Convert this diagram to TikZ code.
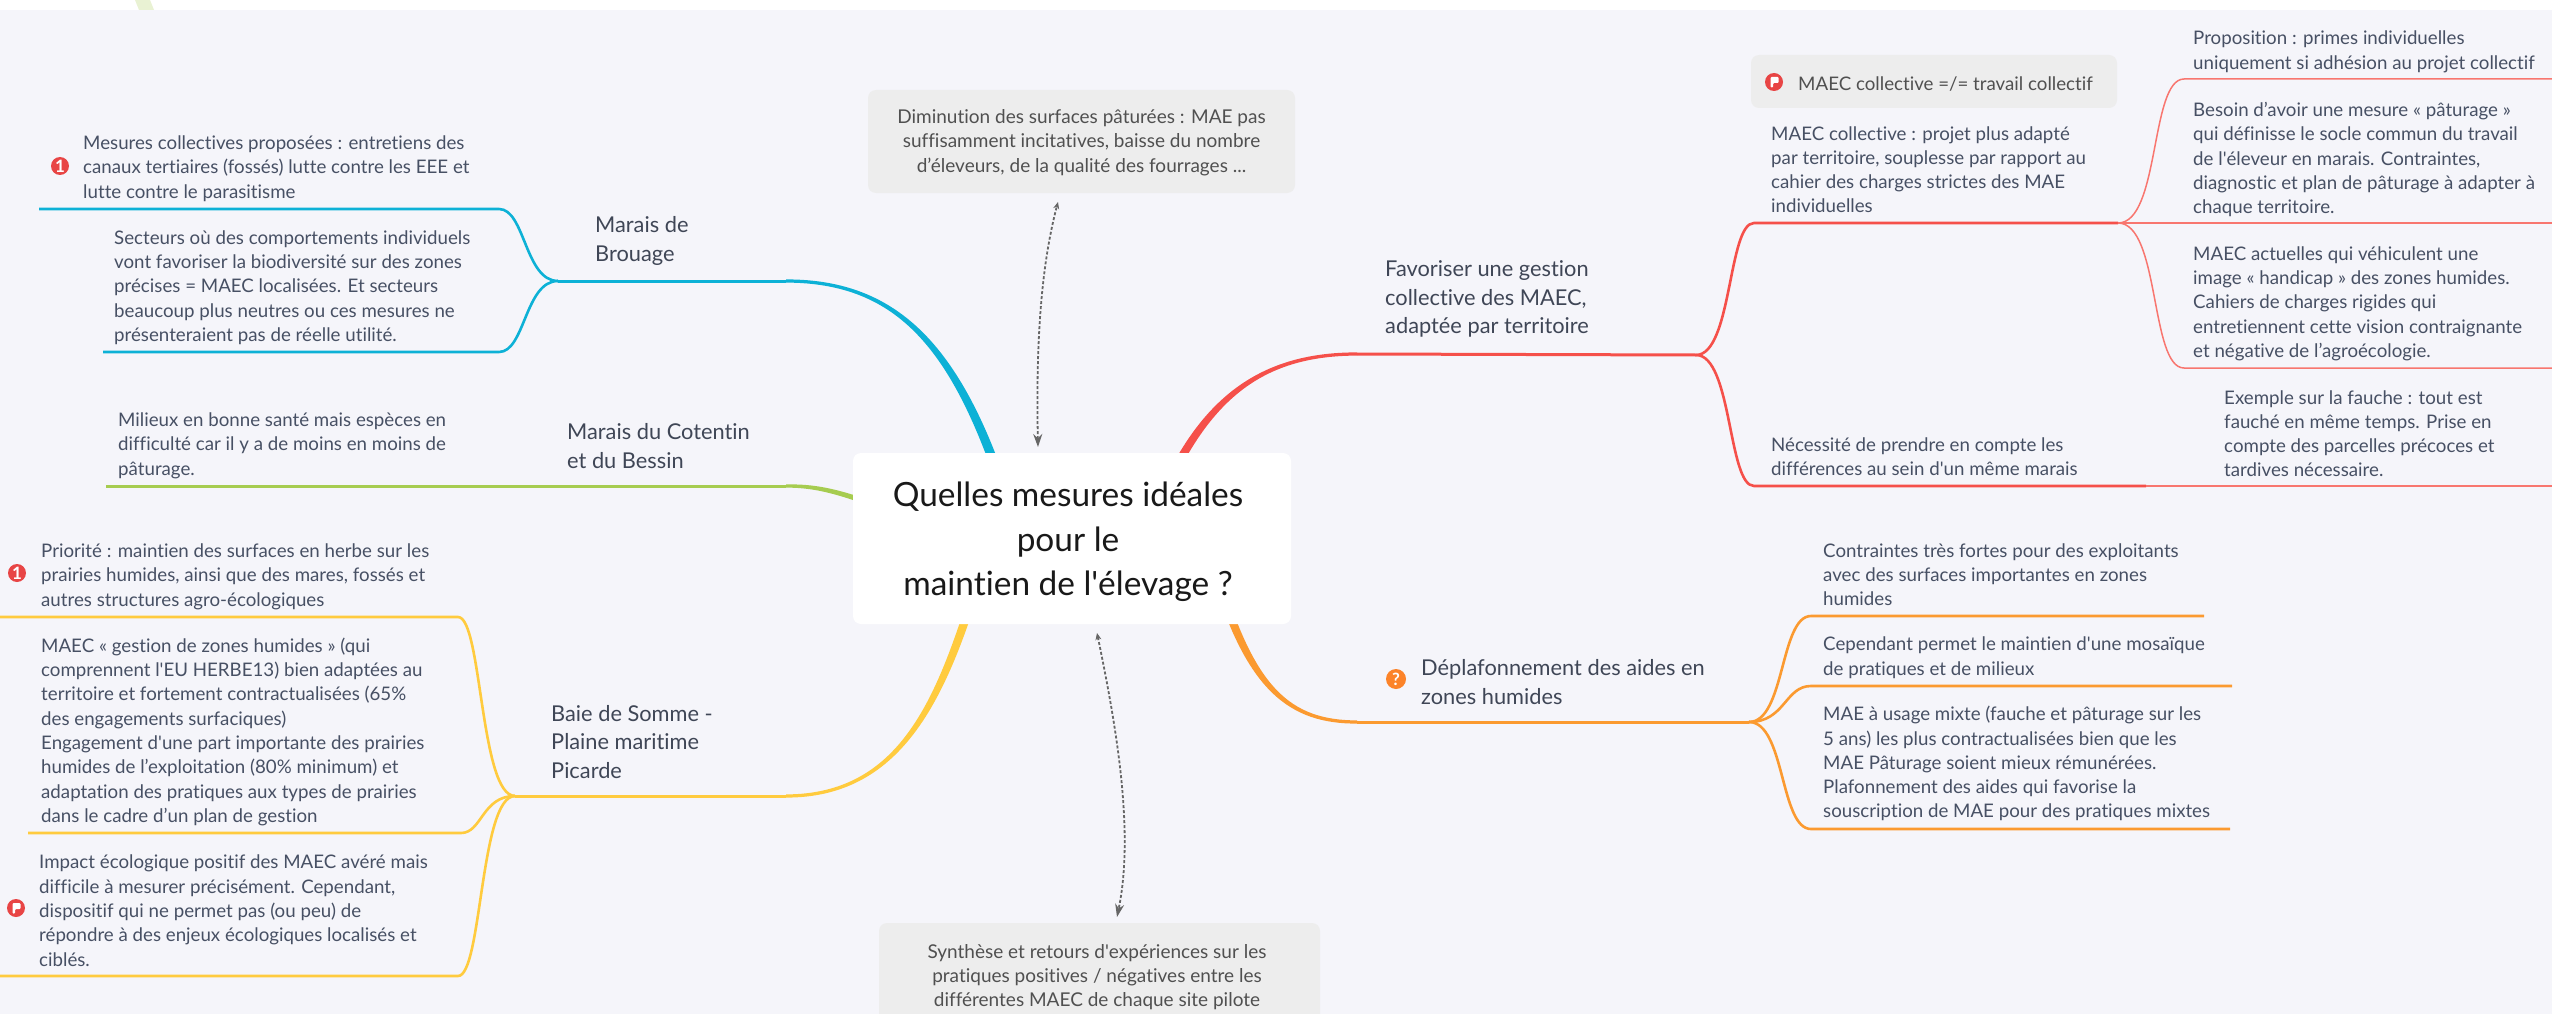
\documentclass[tikz,border=0pt]{standalone}
\usepackage{fontspec}
\setmainfont[Ligatures=NoCommon]{Lato}
\usetikzlibrary{calc}
\usetikzlibrary{arrows.meta}
\definecolor{pagebg}{HTML}{F5F5FA}
\definecolor{inkcol}{HTML}{475064}
\definecolor{topiccol}{HTML}{3F4656}
\definecolor{noteink}{HTML}{505050}
\definecolor{notecol}{HTML}{EDEDED}
\definecolor{bluecol}{HTML}{0DB1D6}
\definecolor{greencol}{HTML}{A6CC50}
\definecolor{yellowcol}{HTML}{FFCB3E}
\definecolor{redcol}{HTML}{F5504A}
\definecolor{iconred}{HTML}{E84545}
\definecolor{thinred}{HTML}{F8766F}
\definecolor{orangecol}{HTML}{FB9A30}
\tikzstyle{leafnode} = [anchor=west, inner sep=0, yshift=-1.7pt, align=left, text=inkcol, font=\fontsize{18.7}{24.3}\selectfont]
\tikzstyle{topicnode} = [anchor=west, inner sep=0, yshift=-2pt, align=left, text=topiccol, font=\fontsize{21.8}{28.3}\selectfont]
\tikzstyle{titlenode} = [inner sep=0, align=center, text=black!90, font=\fontsize{33.4}{44.5}\selectfont]
\tikzstyle{notetext} = [inner sep=0, yshift=-1pt, align=center, text=noteink, font=\fontsize{19}{24.3}\selectfont]
\tikzstyle{notebox} = [fill=notecol, rounded corners=8pt]
\tikzstyle{iconnode} = [circle, minimum size=18pt, inner sep=0, text=white, font=\fontsize{17}{17}\bfseries\selectfont]
\tikzstyle{subline} = [line width=2.6pt]
\tikzstyle{thinline} = [line width=1.5pt, color=thinred]
\tikzstyle{relation} = [densely dashed, line width=1.8pt, color=black!60]
\newcommand\sq{\textquotesingle}
\newcommand\trunk[6]{\fill[#1] ($(#2)+(0,-1.6)$) .. controls ($(#3)+(0,-1.8)$) and ($(#4)+#6$) .. ($(#5)+#6$) -- ($(#5)-#6$) .. controls ($(#4)-#6$) and ($(#3)+(0,1.8)$) .. ($(#2)+(0,1.6)$) -- cycle;}
\newcommand\flagmark[1]{\fill[white, rounded corners=1pt] ($(#1)+(-3.5,-5)$) -- ($(#1)+(4.5,-5)$) -- ($(#1)+(4.5,1)$) -- ($(#1)+(-1,1)$) -- ($(#1)+(-1,5.5)$) -- ($(#1)+(-3.5,5.5)$) -- cycle;}
\begin{document}
\begin{tikzpicture}[x=1pt, y=-1pt]
\useasboundingbox (0,0) rectangle (2552,1014);
\fill[pagebg] (0,0) rectangle (2552,1014);
\fill[white] (0,0) rectangle (2552,10);
\fill[greencol!25] (135,0) -- (150,0) -- (154,10) -- (139,10) -- cycle;

% branch points
\coordinate (blue_tip) at (786,281);
\coordinate (blue_fork) at (558,281);
\coordinate (blue_a) at (499,209);
\coordinate (blue_a_end) at (39,209);
\coordinate (blue_b) at (499,352);
\coordinate (blue_b_end) at (103,352);
\coordinate (green_tip) at (786,486);
\coordinate (green_end) at (106,486);
\coordinate (yellow_tip) at (786,796);
\coordinate (yellow_fork) at (515,796);
\coordinate (yellow_a) at (458,617);
\coordinate (yellow_a_end) at (0,617);
\coordinate (yellow_b) at (461,833);
\coordinate (yellow_b_end) at (28,833);
\coordinate (yellow_c) at (458,976);
\coordinate (yellow_c_end) at (0,976);
\coordinate (red_tip) at (1357,354);
\coordinate (red_fork) at (1696,355);
\coordinate (red_a) at (1754,223);
\coordinate (red_a_end) at (2118,223);
\coordinate (red_b) at (1754,486);
\coordinate (red_b_end) at (2146,486);
\coordinate (red_c) at (2184,79);
\coordinate (red_c_end) at (2552,79);
\coordinate (red_d) at (2552,223);
\coordinate (red_e) at (2184,368);
\coordinate (red_e_end) at (2552,368);
\coordinate (red_f) at (2552,486);
\coordinate (orange_tip) at (1357,722);
\coordinate (orange_fork) at (1749,722);
\coordinate (orange_a) at (1811,616);
\coordinate (orange_a_end) at (2204,616);
\coordinate (orange_b) at (1811,686);
\coordinate (orange_b_end) at (2232,686);
\coordinate (orange_c) at (1811,829);
\coordinate (orange_c_end) at (2230,829);

% trunks
\trunk{bluecol}{blue_tip}{900,281}{960,350}{1010,510}{(4.5,-1.5)}
\trunk{greencol}{green_tip}{810,486}{835,488}{900,515}{(1,-2.5)}
\trunk{yellowcol}{yellow_tip}{900,796}{940,700}{975,590}{(-4,-1.5)}
\trunk{redcol}{red_tip}{1270,354}{1210,390}{1165,490}{(-4,-1.5)}
\trunk{orangecol}{orange_tip}{1290,722}{1250,690}{1215,570}{(4,-1.5)}

% blue
\draw[subline, bluecol, line width=3pt] (blue_tip) -- (blue_fork);
\draw[subline, bluecol] (blue_fork) .. controls (525,281) and (525,209) .. (blue_a) -- (blue_a_end);
\draw[subline, bluecol] (blue_fork) .. controls (525,281) and (525,352) .. (blue_b) -- (blue_b_end);

% green
\draw[subline, greencol, line width=3pt] (green_tip) -- (green_end);

% yellow
\draw[subline, yellowcol, line width=3pt] (yellow_tip) -- (yellow_fork);
\draw[subline, yellowcol] (yellow_fork) .. controls (480,796) and (482,617) .. (yellow_a) -- (yellow_a_end);
\draw[subline, yellowcol] (yellow_fork) .. controls (482,796) and (482,833) .. (yellow_b) -- (yellow_b_end);
\draw[subline, yellowcol] (yellow_fork) .. controls (480,796) and (482,976) .. (yellow_c) -- (yellow_c_end);

% red
\draw[subline, redcol, line width=3pt] (red_tip) -- (red_fork);
\draw[subline, redcol] (red_fork) .. controls (1732,355) and (1728,223) .. (red_a) -- (red_a_end);
\draw[subline, redcol] (red_fork) .. controls (1732,355) and (1728,486) .. (red_b) -- (red_b_end);
\draw[thinline] (red_a_end) .. controls (2160,223) and (2150,79) .. (red_c) -- (red_c_end);
\draw[thinline] (red_a_end) -- (red_d);
\draw[thinline] (red_a_end) .. controls (2160,223) and (2150,368) .. (red_e) -- (red_e_end);
\draw[thinline] (red_b_end) -- (red_f);

% orange
\draw[subline, orangecol, line width=3pt] (orange_tip) -- (orange_fork);
\draw[subline, orangecol] (orange_fork) .. controls (1785,722) and (1780,616) .. (orange_a) -- (orange_a_end);
\draw[subline, orangecol] (orange_fork) .. controls (1785,722) and (1785,686) .. (orange_b) -- (orange_b_end);
\draw[subline, orangecol] (orange_fork) .. controls (1785,722) and (1780,829) .. (orange_c) -- (orange_c_end);

% centre and notes
\node[fill=white, rounded corners=8pt, minimum width=438pt, minimum height=171pt] (centre) at (1072,538.5) {};
\node[titlenode] (title) at (1068,542) {Quelles mesures idéales\\pour le\\maintien de l\sq{}élevage ?};
\node[notebox, minimum width=427pt, minimum height=103pt] (note_top) at (1081.5,141.5) {};
\node[notetext] (note_top_text) at (note_top) {Diminution des surfaces pâturées : MAE pas\\suffisamment incitatives, baisse du nombre\\d'éleveurs, de la qualité des fourrages ...};
\node[notebox, minimum width=441pt, minimum height=110pt] (note_bottom) at (1099.5,978) {};
\node[notetext] (note_bottom_text) at (1097,976) {Synthèse et retours d\sq{}expériences sur les\\pratiques positives / négatives entre les\\différentes MAEC de chaque site pilote};
\coordinate (top_a) at (1038,447);
\coordinate (top_b) at (1058,202);
\coordinate (bottom_a) at (1097,633);
\coordinate (bottom_b) at (1117,917);
\draw[relation, {Stealth[length=13pt,width=9pt]}-{Stealth[length=7pt,width=6pt]}] (top_a) .. controls (1036,350) and (1040,270) .. (top_b);
\draw[relation, {Stealth[length=7pt,width=6pt]}-{Stealth[length=13pt,width=9pt]}] (bottom_a) .. controls (1115,720) and (1135,830) .. (bottom_b);

% topics
\node[topicnode] (brouage) at (595,239) {Marais de\\Brouage};
\node[topicnode] (cotentin) at (567,444) {Marais du Cotentin\\et du Bessin};
\node[topicnode] (somme) at (551,740) {Baie de Somme -\\Plaine maritime\\Picarde};
\node[topicnode] (gestion) at (1385,297) {Favoriser une gestion\\collective des MAEC,\\adaptée par territoire};
\node[topicnode] (deplaf) at (1421,680) {Déplafonnement des aides en\\zones humides};

% left leaves
\node[leafnode] (mesures) at (83,167) {Mesures collectives proposées : entretiens des\\canaux tertiaires (fossés) lutte contre les EEE et\\lutte contre le parasitisme};
\node[leafnode] (secteurs) at (114,286) {Secteurs où des comportements individuels\\vont favoriser la biodiversité sur des zones\\précises = MAEC localisées. Et secteurs\\beaucoup plus neutres ou ces mesures ne\\présenteraient pas de réelle utilité.};
\node[leafnode] (milieux) at (118,444) {Milieux en bonne santé mais espèces en\\difficulté car il y a de moins en moins de\\pâturage.};
\node[leafnode] (priorite) at (41,575) {Priorité : maintien des surfaces en herbe sur les\\prairies humides, ainsi que des mares, fossés et\\autres structures agro-écologiques};
\node[leafnode] (gestion_zh) at (41,730) {MAEC « gestion de zones humides » (qui\\comprennent l\sq{}EU HERBE13) bien adaptées au\\territoire et fortement contractualisées (65\%\\des engagements surfaciques)\\Engagement d\sq{}une part importante des prairies\\humides de l'exploitation (80\% minimum) et\\adaptation des pratiques aux types de prairies\\dans le cadre d'un plan de gestion};
\node[leafnode] (impact) at (39,909) {Impact écologique positif des MAEC avéré mais\\difficile à mesurer précisément. Cependant,\\dispositif qui ne permet pas (ou peu) de\\répondre à des enjeux écologiques localisés et\\ciblés.};

% right leaves
\node[notebox, minimum width=366pt, minimum height=53pt] (travail_box) at (1934,81.5) {};
\node[leafnode, text=noteink] (travail) at (1798,82) {MAEC collective =/= travail collectif};
\node[leafnode] (projet) at (1771,168) {MAEC collective : projet plus adapté\\par territoire, souplesse par rapport au\\cahier des charges strictes des MAE\\individuelles};
\node[leafnode] (difference) at (1771,455) {Nécessité de prendre en compte les\\différences au sein d\sq{}un même marais};
\node[leafnode] (proposition) at (2193,50) {Proposition : primes individuelles\\uniquement si adhésion au projet collectif};
\node[leafnode] (besoin) at (2193,158) {Besoin d'avoir une mesure « pâturage »\\qui définisse le socle commun du travail\\de l\sq{}éleveur en marais. Contraintes,\\diagnostic et plan de pâturage à adapter à\\chaque territoire.};
\node[leafnode] (actuelles) at (2193,302) {MAEC actuelles qui véhiculent une\\image « handicap » des zones humides.\\Cahiers de charges rigides qui\\entretiennent cette vision contraignante\\et négative de l'agroécologie.};
\node[leafnode] (exemple) at (2224,432) {Exemple sur la fauche : tout est\\fauché en même temps. Prise en\\compte des parcelles précoces et\\tardives nécessaire.};
\node[leafnode] (contraintes) at (1823,573) {Contraintes très fortes pour des exploitants\\avec des surfaces importantes en zones\\humides};
\node[leafnode] (mosaique) at (1823,656) {Cependant permet le maintien d\sq{}une mosaïque\\de pratiques et de milieux};
\node[leafnode] (mixte) at (1823,762) {MAE à usage mixte (fauche et pâturage sur les\\5 ans) les plus contractualisées bien que les\\MAE Pâturage soient mieux rémunérées.\\Plafonnement des aides qui favorise la\\souscription de MAE pour des pratiques mixtes};

% icons
\node[iconnode, fill=iconred] (icon_mesures) at (60,166) {1};
\node[iconnode, fill=iconred] (icon_priorite) at (17,573) {1};
\node[iconnode, fill=iconred] (icon_impact) at (16,908) {};
\node[iconnode, fill=iconred] (icon_travail) at (1774,82) {};
\node[iconnode, fill=orangecol!85!red, minimum size=20pt] (icon_deplaf) at (1396,679) {?};
\flagmark{icon_impact}
\flagmark{icon_travail}
\end{tikzpicture}
\end{document}
